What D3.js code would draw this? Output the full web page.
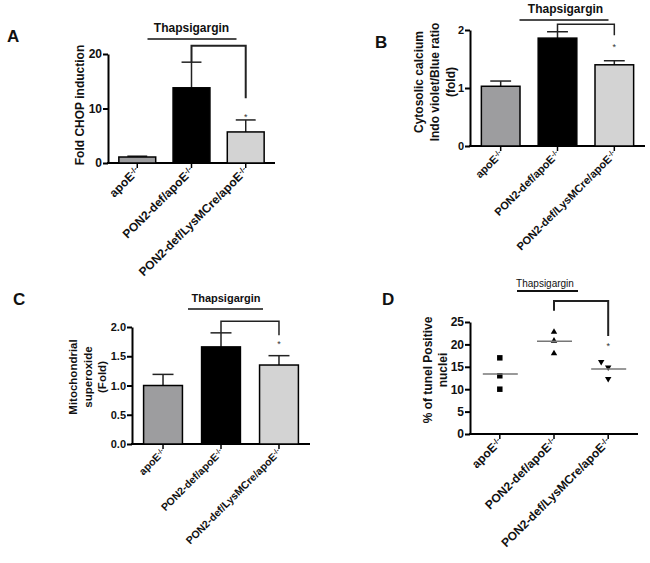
<!DOCTYPE html>
<html><head><meta charset="utf-8">
<script src="https://cdn.jsdelivr.net/npm/d3@7"></script>
<style>body{margin:0;background:#fff}svg{display:block}text{font-family:"Liberation Sans",Arial,sans-serif}</style>
</head><body>
<svg id="c" width="650" height="563"></svg>
<script>
// ---- data ----
const categories = ["apoE", "PON2-def/apoE", "PON2-def/LysMCre/apoE"];
const genotypeSup = "-/-";
const barColors = ["#9d9d9f", "#000000", "#d3d3d3"];

const chopMeans = [1.1, 13.8, 5.7];
const chopErr = [0.15, 4.7, 2.2];
const chopTicks = [0, 10, 20];

const calciumMeans = [1.03, 1.86, 1.40];
const calciumErr = [0.09, 0.11, 0.07];
const calciumTicks = [0, 1, 2];

const superoxideMeans = [1.0, 1.66, 1.35];
const superoxideErr = [0.19, 0.24, 0.16];
const superoxideTicks = [0, 0.5, 1.0, 1.5, 2.0];

const tunelPoints = [[17, 13, 10], [22.8, 20.8, 18], [16.1, 14.9, 12.3]];
const tunelMeans = [13.4, 20.7, 14.5];
const tunelTicks = [0, 5, 10, 15, 20, 25];

// bracket levels in data units [top, leftLegBottom, rightLegBottom], star level
const chopBracket = [21.5, 18.5, 11.9], chopStar = 8.6;
const calciumBracket = [2.10, 1.97, 1.91], calciumStar = 1.72;
const superoxideBracket = [2.10, 1.90, 1.86], superoxideStar = 1.72;
const tunelBracket = [29.7, 27.5, 21.9], tunelStar = 19.8;

const svg = d3.select("#c");
svg.append("rect").attr("width", 650).attr("height", 563).attr("fill", "#fff");

function panel(o) {
  const g = svg.append("g");
  const x = d3.scaleBand().domain(categories).range([o.x0, o.x1]).paddingInner(o.pi).paddingOuter(o.po);
  const y = d3.scaleLinear().domain(o.domain).range([o.y0, o.y1]);
  // y axis
  const ya = g.append("g").attr("transform", `translate(${o.x0},0)`)
    .call(d3.axisLeft(y).tickValues(o.ticks).tickSize(5).tickSizeOuter(0).tickFormat(o.fmt));
  ya.select(".domain").attr("stroke", "#000").attr("stroke-width", 2);
  ya.selectAll(".tick line").attr("stroke", "#000").attr("stroke-width", 2);
  ya.selectAll(".tick text").attr("font-size", o.tickFs).attr("font-weight", "bold").attr("fill", "#111").attr("x", -6).style("font-family", "Liberation Sans, Arial");
  // x axis
  const xa = g.append("g").attr("transform", `translate(0,${o.y0})`)
    .call(d3.axisBottom(x).tickSize(5).tickSizeOuter(0).tickFormat(""));
  xa.select(".domain").attr("stroke", "#000").attr("stroke-width", 2).attr("d", `M${o.x0 - 1},0H${o.x1}`);
  xa.selectAll(".tick line").attr("stroke", "#000").attr("stroke-width", 1.5);
  // x labels
  categories.forEach((c) => {
    const cx = x(c) + x.bandwidth() / 2;
    const t = g.append("text")
      .attr("transform", `translate(${cx + o.lx},${o.y0 + o.ly}) rotate(-45)`)
      .attr("text-anchor", "end").attr("font-size", o.labFs).attr("font-weight", o.labW).attr("fill", "#111");
    t.append("tspan").text(c);
    t.append("tspan").attr("dy", "-0.45em").attr("font-size", "0.65em").text(genotypeSup);
  });
  const cxs = categories.map(c => x(c) + x.bandwidth() / 2);
  if (o.means && !o.points) {
    // error bars (upper)
    categories.forEach((c, i) => {
      const cx = cxs[i];
      const top = y(o.means[i] + o.err[i]);
      g.append("line").attr("x1", cx).attr("x2", cx).attr("y1", y(o.means[i])).attr("y2", top).attr("stroke", "#222").attr("stroke-width", 1.5);
      g.append("line").attr("x1", cx - x.bandwidth() * 0.27).attr("x2", cx + x.bandwidth() * 0.27).attr("y1", top).attr("y2", top).attr("stroke", "#222").attr("stroke-width", 1.5);
    });
    g.selectAll("rect.bar").data(o.means).join("rect").attr("class", "bar")
      .attr("x", (d, i) => x(categories[i])).attr("width", x.bandwidth())
      .attr("y", d => y(d)).attr("height", d => y(0) - y(d))
      .attr("fill", (d, i) => barColors[i]).attr("stroke", "#000").attr("stroke-width", 1.5);
  }
  if (o.points) {
    const sym = [d3.symbolSquare, d3.symbolTriangle, d3.symbolTriangle];
    o.points.forEach((arr, i) => {
      arr.forEach((v, j) => {
        const jx = (i === 2 && j === 0) ? -7 : 0;
        g.append("path").attr("d", d3.symbol(sym[i], i === 0 ? 30 : 18)())
          .attr("transform", `translate(${cxs[i] + jx},${y(v)})${i === 2 ? " rotate(180)" : ""}`)
          .attr("fill", "#000");
      });
      g.append("line").attr("x1", cxs[i] - 17).attr("x2", cxs[i] + 18).attr("y1", y(o.means[i])).attr("y2", y(o.means[i]))
        .attr("stroke", "#777").attr("stroke-width", 1.5);
    });
  }
  // bracket
  const b = o.bracket;
  g.append("path").attr("d", `M${cxs[1]},${y(b[1])}V${y(b[0])}H${cxs[2]}V${y(b[2])}`)
    .attr("fill", "none").attr("stroke", "#222").attr("stroke-width", o.bw);
  g.append("text").attr("x", cxs[2]).attr("y", y(o.star) + 4).attr("text-anchor", "middle").attr("font-size", 9).attr("fill", "#333").text("*");
  // Thapsigargin
  g.append("text").attr("x", cxs[1] + o.th[0]).attr("y", o.th[1]).attr("text-anchor", "middle")
    .attr("font-size", o.thFs).attr("font-weight", o.thW).attr("fill", "#111").text("Thapsigargin");
  g.append("line").attr("x1", cxs[1] + o.ul[0]).attr("x2", cxs[1] + o.ul[1]).attr("y1", o.ul[2]).attr("y2", o.ul[2])
    .attr("stroke", "#111").attr("stroke-width", o.ulw);
  // y title
  const yt = g.append("text").attr("font-size", o.ytFs).attr("font-weight", "bold").attr("fill", "#111").attr("text-anchor", "middle")
    .attr("transform", `translate(${o.yt[0]},${o.yt[1]}) rotate(-90)`);
  o.ytitle.forEach((l, i) => yt.append("tspan").attr("x", 0).attr("dy", i === 0 ? 0 : o.ytLh).text(l));
  // panel letter
  g.append("text").attr("x", o.letter[1]).attr("y", o.letter[2]).attr("font-size", 17).attr("font-weight", "bold").attr("fill", "#111").text(o.letter[0]);
}

panel({x0: 108, x1: 275, y0: 163, y1: 54, domain: [0, 20], ticks: chopTicks, fmt: d3.format("d"), pi: 0.32, po: 0.2,
  means: chopMeans, err: chopErr, bracket: chopBracket, star: chopStar, bw: 2,
  th: [0, 32], thFs: 12, thW: "bold", ul: [-44, 45, 39], ulw: 1.5,
  ytitle: ["Fold CHOP induction"], yt: [84, 105], ytFs: 12, ytLh: 15,
  tickFs: 12, labFs: 12, labW: "bold", lx: 3, ly: 9, letter: ["A", 7, 42]});

panel({x0: 470, x1: 645, y0: 146, y1: 30, domain: [0, 2], ticks: calciumTicks, fmt: d3.format("d"), pi: 0.32, po: 0.2,
  means: calciumMeans, err: calciumErr, bracket: calciumBracket, star: calciumStar, bw: 1.5,
  th: [8, 13], thFs: 12, thW: "bold", ul: [-38, 51, 20], ulw: 1.5,
  ytitle: ["Cytosolic calcium", "Indo violet/Blue ratio", "(fold)"], yt: [423, 82], ytFs: 12, ytLh: 16,
  tickFs: 11, labFs: 11, labW: "bold", lx: 3, ly: 9, letter: ["B", 375, 48]});

panel({x0: 132, x1: 310, y0: 444, y1: 327, domain: [0, 2], ticks: superoxideTicks, fmt: d3.format(".1f"), pi: 0.33, po: 0.2,
  means: superoxideMeans, err: superoxideErr, bracket: superoxideBracket, star: superoxideStar, bw: 1.5,
  th: [5, 302], thFs: 11, thW: "bold", ul: [-33, 42, 309], ulw: 1.5,
  ytitle: ["Mitochondrial", "superoxide", "(Fold)"], yt: [77, 377], ytFs: 11.5, ytLh: 14.5,
  tickFs: 11, labFs: 10.5, labW: "bold", lx: 3, ly: 9, letter: ["C", 13, 305]});

panel({x0: 470, x1: 638, y0: 434, y1: 322, domain: [0, 25], ticks: tunelTicks, fmt: d3.format("d"), pi: 0.4, po: 0.25,
  points: tunelPoints, means: tunelMeans, bracket: tunelBracket, star: tunelStar, bw: 2,
  th: [-9, 287], thFs: 10, thW: "normal", ul: [-37, 24, 291], ulw: 2,
  ytitle: ["% of tunel  Positive", "nuclei"], yt: [432, 370], ytFs: 12, ytLh: 15,
  tickFs: 12, labFs: 12, labW: "bold", lx: 3, ly: 9, letter: ["D", 382, 305]});
</script>
</body></html>
